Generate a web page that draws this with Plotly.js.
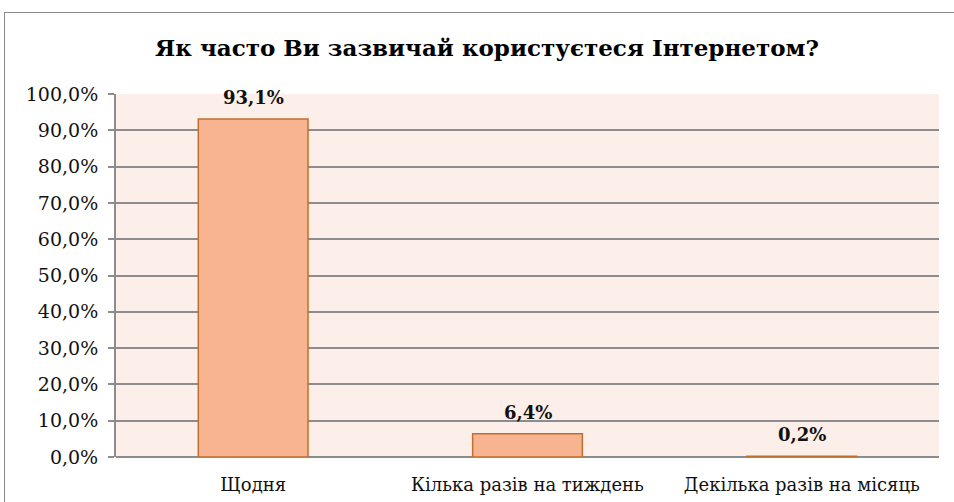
<!DOCTYPE html>
<html><head><meta charset="utf-8">
<script src="https://cdn.plot.ly/plotly-3.0.1.min.js"></script>
<style>
html,body{margin:0;padding:0;background:#fff;}
#wrap{position:relative;width:954px;height:502px;overflow:hidden;}
#chart{width:954px;height:502px;}
#frame{position:absolute;left:4px;top:12px;width:970px;height:520px;border:1.5px solid #8a8a8a;pointer-events:none;}
</style></head>
<body><div id="wrap"><div id="chart"></div><div id="frame"></div></div>
<script>
var categories = ["Щодня", "Кілька разів на тиждень", "Декілька разів на місяць"];
var values = [93.1, 6.4, 0.2];
var labels = ["93,1%", "6,4%", "0,2%"];
var tickVals = [0,10,20,30,40,50,60,70,80,90,100];
var tickText = ["0,0%","10,0%","20,0%","30,0%","40,0%","50,0%","60,0%","70,0%","80,0%","90,0%","100,0%"];
var titleText = "Як часто Ви зазвичай користуєтеся Інтернетом?";

var font = "'DejaVu Serif', serif";
var annotations = categories.map(function (c, i) {
  return {x: c, y: values[i], xref: "x", yref: "y", text: "<b>" + labels[i] + "</b>",
          showarrow: false, yanchor: "bottom", yshift: 9,
          font: {family: font, size: 18, color: "#111"}};
});
Plotly.newPlot("chart", [{
  type: "bar",
  x: categories,
  y: values,
  marker: {color: "#F8B490", line: {color: "#C0702E", width: 1.5}},
  width: 0.4,
  hoverinfo: "none"
}], {
  width: 954, height: 502,
  margin: {l: 116, r: 15, t: 94, b: 45},
  paper_bgcolor: "rgba(0,0,0,0)",
  plot_bgcolor: "#FCEEE8",
  annotations: annotations,
  title: {text: "<b>" + titleText + "</b>", x: 0.5105, xref: "container", xanchor: "center", y: 0.905, yref: "container", yanchor: "middle",
          font: {family: font, size: 23, color: "#000"}},
  xaxis: {
    showgrid: false, showline: false, ticks: "",
    tickfont: {family: font, size: 18, color: "#111"},
    ticklabelstandoff: 15
  },
  yaxis: {
    range: [0, 100], tickvals: tickVals, ticktext: tickText,
    showgrid: true, gridcolor: "#8c8c8c", gridwidth: 2,
    zeroline: true, zerolinecolor: "#8c8c8c", zerolinewidth: 2,
    showline: true, linecolor: "#8c8c8c", linewidth: 2,
    ticks: "outside", ticklen: 6, tickcolor: "#8c8c8c", tickwidth: 2,
    ticklabelstandoff: 6,
    tickfont: {family: font, size: 19, color: "#111"},
    fixedrange: true
  },
  showlegend: false
}, {staticPlot: true});
</script></body></html>
